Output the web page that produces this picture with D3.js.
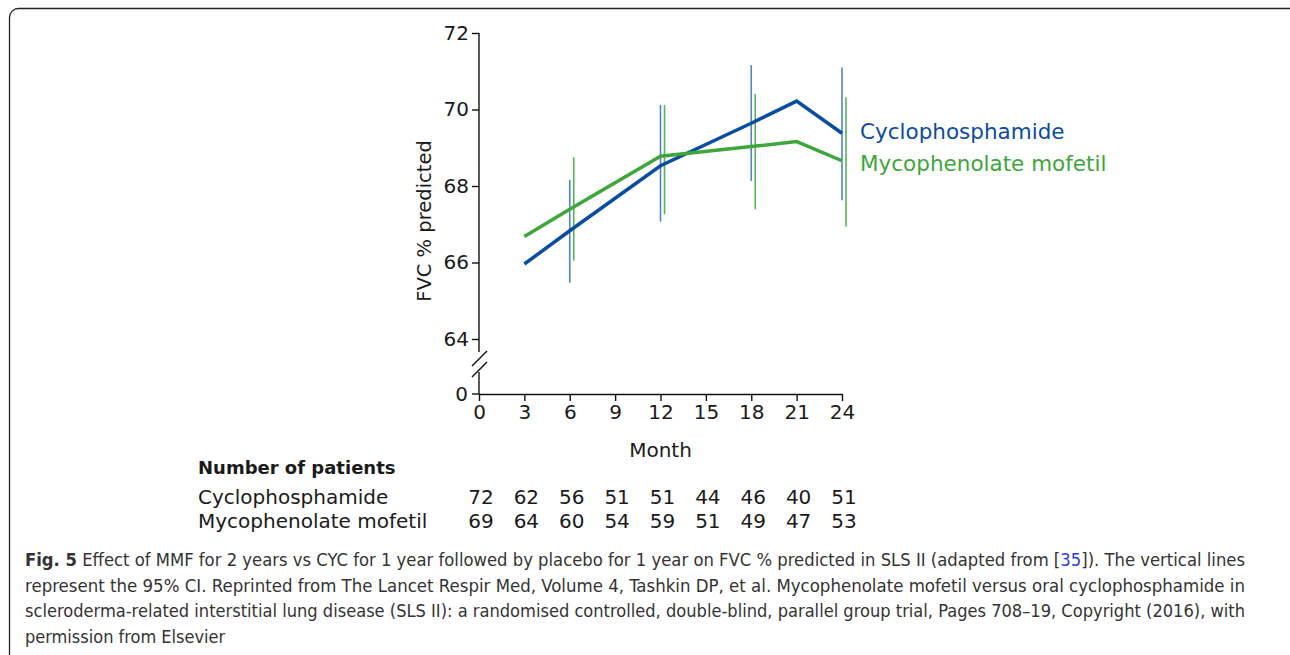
<!DOCTYPE html>
<html>
<head>
<meta charset="utf-8">
<script src="https://cdn.jsdelivr.net/npm/d3@7"></script>
<style>
	html, body { margin: 0; padding: 0; background: #fff; }
	svg { display: block; }
	.chart text { font-family: "DejaVu Sans", sans-serif; fill: #1a1a1a; }
	.cap text { font-family: "Liberation Sans Narrow", "DejaVu Sans Condensed", sans-serif; font-size: 18px; fill: #333; }
</style>
</head>
<body>
<div id="fig"></div>
<script>
// chart data
var months = [3, 6, 12, 18, 21, 24];
var cycMean = [65.96, 66.83, 68.53, 69.64, 70.22, 69.38];
var mmfMean = [66.68, 67.39, 68.78, 69.03, 69.16, 68.66];

// 95% CI (vertical lines)
var ciMonths = [6, 12, 18, 24];
var cycLow = [65.47, 67.07, 68.13, 67.63];
var cycHigh = [68.16, 70.12, 71.16, 71.10];
var mmfLow = [66.05, 67.26, 67.39, 66.94];
var mmfHigh = [68.75, 70.12, 70.41, 70.32];

var xTicks = [0, 3, 6, 9, 12, 15, 18, 21, 24];
var yTicks = [64, 66, 68, 70, 72];

// number of patients table
var tableMonths = [0, 3, 6, 9, 12, 15, 18, 21, 24];
var cycN = [72, 62, 56, 51, 51, 44, 46, 40, 51];
var mmfN = [69, 64, 60, 54, 59, 51, 49, 47, 53];

var seriesNames = ["Cyclophosphamide", "Mycophenolate mofetil"];

var captionLines = [
	"Effect of MMF for 2 years vs CYC for 1 year followed by placebo for 1 year on FVC % predicted in SLS II (adapted from [",
	"represent the 95% CI. Reprinted from The Lancet Respir Med, Volume 4, Tashkin DP, et al. Mycophenolate mofetil versus oral cyclophosphamide in",
	"scleroderma-related interstitial lung disease (SLS II): a randomised controlled, double-blind, parallel group trial, Pages 708\u201319, Copyright (2016), with",
	"permission from Elsevier"
];

(function() {
	"use strict";

	var W = 1290, H = 655;
	var blue = "#0a4c9e", green = "#3ea63a";
	var blueCI = "#4f83c8", greenCI = "#55b64f";

	var svg = d3.select("#fig").append("svg")
		.attr("width", W)
		.attr("height", H);

	// rounded frame (runs off right/bottom edge)
	svg.append("rect")
		.attr("x", 9.5).attr("y", 8.5)
		.attr("width", W + 20).attr("height", H + 20)
		.attr("rx", 9)
		.attr("fill", "none")
		.attr("stroke", "#222")
		.attr("stroke-width", 1.3);

	var x = d3.scaleLinear().domain([0, 24]).range([479, 842]);
	var y = d3.scaleLinear().domain([64, 72]).range([339, 33]);
	var yZero = 394;

	var g = svg.append("g").attr("class", "chart");

	// x axis
	var xAxis = g.append("g")
		.attr("transform", "translate(0," + yZero + ")")
		.call(d3.axisBottom(x).tickValues(xTicks).tickSize(7).tickSizeOuter(0).tickPadding(4));
	xAxis.select(".domain").attr("stroke", "#111").attr("stroke-width", 1.4);
	xAxis.selectAll(".tick line").attr("stroke", "#111").attr("stroke-width", 1.4);
	xAxis.selectAll(".tick text").attr("font-size", 20).attr("fill", "#1a1a1a")
		.style("font-family", "DejaVu Sans, sans-serif");

	// y axis (upper part), domain drawn by hand for the break
	var yAxis = g.append("g")
		.attr("transform", "translate(" + x(0) + ",0)")
		.call(d3.axisLeft(y).tickValues(yTicks).tickSize(7).tickSizeOuter(0).tickPadding(3));
	yAxis.select(".domain").remove();
	yAxis.selectAll(".tick line").attr("stroke", "#111").attr("stroke-width", 1.4);
	yAxis.selectAll(".tick text").attr("font-size", 20).attr("fill", "#1a1a1a")
		.style("font-family", "DejaVu Sans, sans-serif");

	var ax = g.append("g").attr("stroke", "#111").attr("stroke-width", 1.4);
	ax.append("line").attr("x1", x(0)).attr("x2", x(0)).attr("y1", y(72)).attr("y2", 352);
	ax.append("line").attr("x1", x(0)).attr("x2", x(0)).attr("y1", 372).attr("y2", yZero);
	// break marks
	ax.append("line").attr("x1", x(0) - 7).attr("y1", 366).attr("x2", x(0) + 8).attr("y2", 351);
	ax.append("line").attr("x1", x(0) - 7).attr("y1", 377).attr("x2", x(0) + 8).attr("y2", 362);
	// zero tick
	ax.append("line").attr("x1", x(0) - 7).attr("x2", x(0)).attr("y1", yZero).attr("y2", yZero);
	g.append("text")
		.attr("x", x(0) - 11).attr("y", yZero)
		.attr("dy", "0.35em")
		.attr("text-anchor", "end")
		.attr("font-size", 20)
		.text("0");

	// axis titles
	g.append("text")
		.attr("transform", "translate(431,221) rotate(-90)")
		.attr("text-anchor", "middle")
		.attr("font-size", 19.5)
		.text("FVC % predicted");
	g.append("text")
		.attr("x", x(12)).attr("y", 450)
		.attr("dy", "0.35em")
		.attr("text-anchor", "middle")
		.attr("font-size", 20)
		.text("Month");

	// confidence interval lines
	function drawCI(lo, hi, col, off) {
		g.append("g").selectAll("line")
			.data(ciMonths)
			.join("line")
			.attr("x1", function(d) { return x(d) + off; })
			.attr("x2", function(d) { return x(d) + off; })
			.attr("y1", function(d, i) { return y(lo[i]); })
			.attr("y2", function(d, i) { return y(hi[i]); })
			.attr("stroke", col)
			.attr("stroke-width", 1.6);
	}
	drawCI(cycLow, cycHigh, blueCI, 0);
	drawCI(mmfLow, mmfHigh, greenCI, 4);

	var line = d3.line()
		.x(function(d) { return x(d[0]); })
		.y(function(d) { return y(d[1]); });

	var series = [
		{ name: seriesNames[0], vals: cycMean, col: blue, dy: -2 },
		{ name: seriesNames[1], vals: mmfMean, col: green, dy: 3 }
	];

	series.forEach(function(s) {
		g.append("path")
			.datum(d3.zip(months, s.vals))
			.attr("d", line)
			.attr("fill", "none")
			.attr("stroke", s.col)
			.attr("stroke-width", 3.5)
			.attr("stroke-linejoin", "miter");
		// end label
		g.append("text")
			.attr("x", 860)
			.attr("y", y(s.vals[s.vals.length - 1]) + s.dy)
			.attr("dy", "0.35em")
			.attr("font-size", 21.5)
			.style("fill", s.col)
			.text(s.name);
	});

	// number of patients table
	var tbl = svg.append("g").attr("class", "chart");
	tbl.append("text")
		.attr("x", 198).attr("y", 468)
		.attr("dy", "0.35em")
		.attr("font-size", 18)
		.attr("font-weight", "bold")
		.text("Number of patients");

	[cycN, mmfN].forEach(function(row, r) {
		var yy = 497 + r * 24;
		tbl.append("text")
			.attr("x", 198).attr("y", yy)
			.attr("dy", "0.35em")
			.attr("font-size", 20)
			.text(seriesNames[r]);
		tbl.append("g").selectAll("text")
			.data(row)
			.join("text")
			.attr("x", function(d, i) { return x(tableMonths[i]) + 2; })
			.attr("y", yy)
			.attr("dy", "0.35em")
			.attr("text-anchor", "middle")
			.attr("font-size", 20)
			.text(function(d) { return d; });
	});

	// caption
	var cap = svg.append("g").attr("class", "cap");
	var capX = 25, capRight = 1245;
	captionLines.forEach(function(txt, i) {
		var t = cap.append("text")
			.attr("x", capX)
			.attr("y", 566 + i * 25.5);
		if (i === 0) {
			t.append("tspan").attr("font-weight", "bold").text("Fig. 5");
			t.append("tspan").text(" " + txt);
			t.append("tspan").style("fill", "#2b3fd6").text("35");
			t.append("tspan").text("]). The vertical lines");
		} else {
			t.text(txt);
		}
		if (i < 3) {
			t.attr("textLength", capRight - capX).attr("lengthAdjust", "spacingAndGlyphs");
		}
	});
	// last line: squeeze by the same ratio as line 2
	var ref = cap.selectAll("text").nodes();
	var ratio = (capRight - capX) / ref[1].getComputedTextLength();
	var last = ref[3];
	var nat = last.getComputedTextLength();
	if (ratio < 1) {
		d3.select(last).attr("textLength", nat * ratio).attr("lengthAdjust", "spacingAndGlyphs");
	}
})();
</script>
</body>
</html>
